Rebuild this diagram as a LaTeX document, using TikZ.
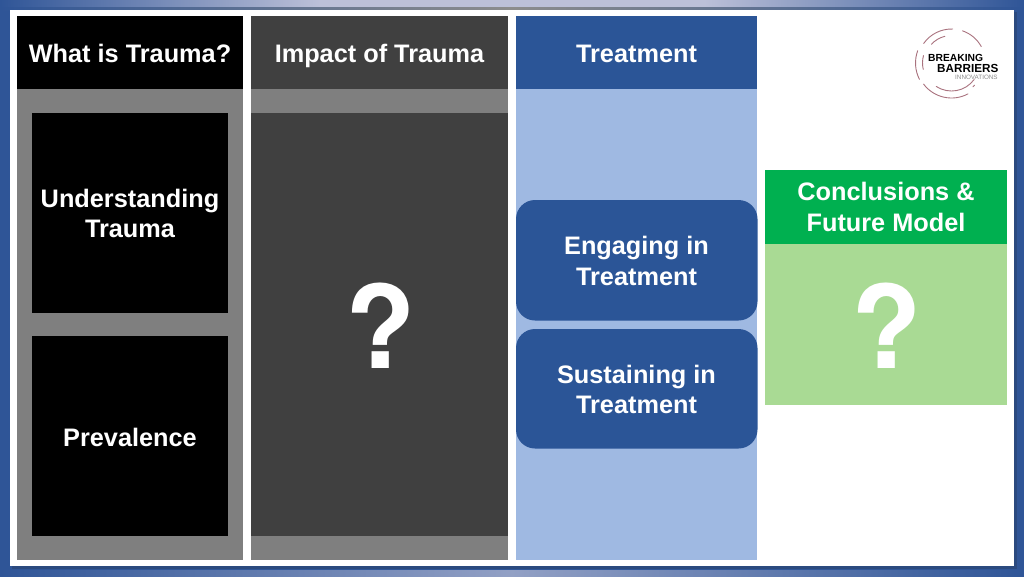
\documentclass[tikz,border=0pt]{standalone}
\usepackage{fontspec}
\setmainfont{Liberation Sans}
\newfontfamily\qfont{TeX Gyre Heros}
\definecolor{frameblue}{HTML}{2F5597}
\definecolor{framelight}{HTML}{BCC0D8}
\definecolor{frameshadow}{HTML}{2B4A7F}
\definecolor{tblue}{HTML}{2B5597}
\definecolor{lblue}{HTML}{9FB9E2}
\definecolor{midgray}{HTML}{7F7F7F}
\definecolor{darkgray}{HTML}{404040}
\definecolor{cgreen}{HTML}{00B050}
\definecolor{lgreen}{HTML}{A9DA94}
\definecolor{rosearc}{HTML}{A9727E}
\tikzset{
  x=1pt,y=-1pt,
  label/.style={text=white,font=\bfseries\fontsize{25.3}{30.3}\selectfont,align=center,inner sep=0pt},
  headlabel/.style={label,anchor=base},
  qmark/.style={text=white,font=\qfont\bfseries\fontsize{115}{115}\selectfont,inner sep=0pt},
  logoarc/.style={draw=rosearc,line width=0.9pt,line cap=round},
}
\begin{document}
\begin{tikzpicture}
\useasboundingbox (0,0) rectangle (1024,576);
% frame
\fill[frameblue] (0,0) rectangle (1024,576);
\shade[left color=frameblue,right color=framelight] (0,0) rectangle (320,8);
\fill[framelight] (320,0) rectangle (704,8);
\shade[left color=framelight,right color=frameblue] (704,0) rectangle (1024,8);
\shade[left color=frameblue,right color=frameblue,middle color=framelight!70!frameblue] (0,570) rectangle (1024,576);
\shade[left color=frameblue,right color=frameblue,middle color=black!45] (0,7.5) rectangle (1024,10);
\fill[frameshadow] (12,12) rectangle (1017,569);
\fill[white] (10,10) rectangle (1014,566);
% columns
\fill[midgray] (17,16) rectangle (243,560);
\fill[midgray] (251,16) rectangle (508,560);
\fill[lblue] (516,16) rectangle (757,560);
\fill[black] (17,16) rectangle (243,89);
\fill[darkgray] (251,16) rectangle (508,89);
\fill[tblue] (516,16) rectangle (757,89);
\fill[black] (32,113) rectangle (228,313);
\fill[black] (32,336) rectangle (228,536);
\fill[darkgray] (251,113) rectangle (508,536);
\node[headlabel] (h1) at (130,62) {What is Trauma?};
\node[headlabel] (h2) at (379.5,62) {Impact of Trauma};
\node[headlabel] (h3) at (636.5,62) {Treatment};
\node[label] (u) at (130,213.5) {Understanding\\Trauma};
\node[headlabel] (p) at (130,446) {Prevalence};
\node[qmark] (q1) at (380.5,326) {?};
% treatment boxes
\fill[tblue,rounded corners=19pt] (516,200) rectangle (757.5,320.5);
\fill[tblue,rounded corners=19pt] (516,329) rectangle (757.5,448.5);
\node[label] (e) at (636.5,261) {Engaging in\\Treatment};
\node[label] (s) at (636.5,389.5) {Sustaining in\\Treatment};
% conclusions
\fill[lgreen] (765,244) rectangle (1007,405);
\fill[cgreen] (765,170) rectangle (1007,244);
\node[label] (c) at (886,207) {Conclusions \&\\Future Model};
\node[qmark] (q2) at (887,326) {?};
% logo
\begin{scope}[shift={(951.5,63)},y=1pt]
\draw[logoarc] (88:34) arc (88:145:34);
\draw[logoarc] (71:34) arc (71:29:34);
\draw[logoarc] (160:36) arc (160:207:36);
\draw[logoarc] (217:35) arc (217:298:35);
\draw[logoarc] (104:27.5) arc (104:137:27.5);
\draw[logoarc] (165:29) arc (165:193:29);
\draw[logoarc] (237:28) arc (237:324:28);
\draw[logoarc] (312:32) arc (312:316:32);
\end{scope}
\node[anchor=west,inner sep=0pt,text=black,font=\bfseries\fontsize{10.3}{10.3}\selectfont] (l1) at (928,57.5) {BREAKING};
\node[anchor=west,inner sep=0pt,text=black,font=\bfseries\fontsize{11.7}{11.7}\selectfont] (l2) at (937,68) {BARRIERS};
\node[anchor=west,inner sep=0pt,text=black!45,font=\fontsize{6.3}{6.3}\selectfont] (l3) at (955,77.5) {INNOVATIONS};
\end{tikzpicture}
\end{document}
